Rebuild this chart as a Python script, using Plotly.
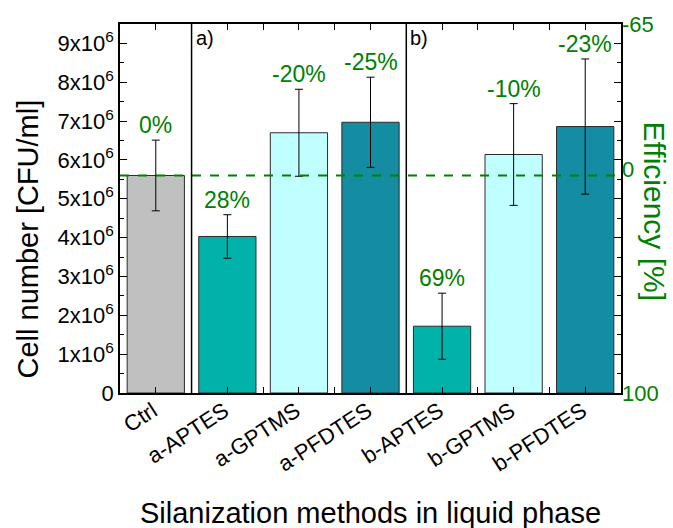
import plotly.graph_objects as go

# Cell counts after silanization (liquid phase)
categories = ["Ctrl", "a-APTES", "a-GPTMS", "a-PFDTES", "b-APTES", "b-GPTMS", "b-PFDTES"]
cell_number = [5.60e6, 4.03e6, 6.70e6, 6.97e6, 1.72e6, 6.14e6, 6.86e6]
cell_error = [0.91e6, 0.56e6, 1.12e6, 1.16e6, 0.85e6, 1.31e6, 1.74e6]
efficiency = [0, 28, -20, -25, 69, -10, -23]
bar_colors = ["#C0C0C0", "#00B2AA", "#C0FFFF", "#148CA2", "#00B2AA", "#C0FFFF", "#148CA2"]

y_tick_vals = [0, 1e6, 2e6, 3e6, 4e6, 5e6, 6e6, 7e6, 8e6, 9e6]
y_tick_text = ["0"] + [f"{i}x10<sup>6</sup>" for i in range(1, 10)]
eff_tick_vals = [-65, 0, 100]
eff_tick_text = ["-65", "0", "100"]
group_labels = ["a)", "b)"]
group_starts = [0.5, 3.5]

FONT = "Arial"
GREEN = "#008000"

x_pos = list(range(len(categories)))

fig = go.Figure()
fig.add_trace(go.Bar(
    x=x_pos, y=cell_number, width=0.8,
    marker=dict(color=bar_colors, line=dict(color="#2a2a2a", width=1)),
    error_y=dict(type="data", array=cell_error, color="black", thickness=1, width=4),
    showlegend=False,
))
# invisible trace that carries the efficiency axis
fig.add_trace(go.Scatter(
    x=x_pos, y=efficiency, yaxis="y2", mode="markers",
    marker=dict(opacity=0), hoverinfo="skip", showlegend=False,
))

# efficiency labels above each error bar
for xi, v, e, eff in zip(x_pos, cell_number, cell_error, efficiency):
    fig.add_annotation(x=xi, y=v + e, text=f"{eff}%", showarrow=False,
                       yanchor="bottom", yshift=0,
                       font=dict(family=FONT, size=23, color=GREEN))

# reference level of the control
fig.add_shape(type="line", xref="paper", x0=0, x1=1, yref="y",
              y0=cell_number[0], y1=cell_number[0],
              line=dict(color=GREEN, width=2, dash="dash"))

# group separators and labels
for xs, lab in zip(group_starts, group_labels):
    fig.add_shape(type="line", xref="x", x0=xs, x1=xs, yref="paper", y0=0, y1=1,
                  line=dict(color="black", width=1.5))
    fig.add_annotation(x=xs, y=1, xref="x", yref="paper", text=lab, showarrow=False,
                       xanchor="left", yanchor="top", xshift=2, yshift=-1,
                       font=dict(family=FONT, size=20, color="black"))

# axis titles
fig.add_annotation(x=1, y=0.5, xref="paper", yref="paper", text="Efficiency [%]",
                   showarrow=False, textangle=90, xanchor="center", yanchor="middle",
                   xshift=33, yshift=-3,
                   font=dict(family=FONT, size=30, color=GREEN))
fig.add_annotation(x=0, y=0.5, xref="paper", yref="paper", text="Cell number [CFU/ml]",
                   showarrow=False, textangle=-90, xanchor="center", yanchor="middle",
                   xshift=-93, yshift=-31,
                   font=dict(family=FONT, size=29, color="black"))
fig.add_annotation(x=0.5, y=0, xref="paper", yref="paper",
                   text="Silanization methods in liquid phase",
                   showarrow=False, xanchor="center", yanchor="middle",
                   xshift=0, yshift=-120,
                   font=dict(family=FONT, size=29, color="black"))

fig.update_layout(
    width=673, height=528,
    margin=dict(l=120, r=52, t=24, b=135),
    plot_bgcolor="white", paper_bgcolor="white",
    font=dict(family=FONT, color="black"),
    xaxis=dict(
        range=[-0.5, len(categories) - 0.5], automargin=False,
        tickvals=x_pos, ticktext=categories, tickangle=-33,
        tickfont=dict(size=22), ticks="inside", ticklen=6, tickwidth=1.2,
        tickcolor="black", ticklabelstandoff=-5, ticklabelshift=-3,
        minor=dict(tick0=0.5, dtick=1, ticks="inside", ticklen=4, tickcolor="black"),
        showline=True, linecolor="black", linewidth=1.5, mirror="allticks",
        showgrid=False, zeroline=False,
    ),
    yaxis=dict(
        range=[0, 9.5e6], automargin=False,
        tickvals=y_tick_vals, ticktext=y_tick_text,
        tickfont=dict(size=22), ticks="inside", ticklen=7, tickwidth=1.2,
        tickcolor="black",
        minor=dict(dtick=0.5e6, tick0=0, ticks="inside", ticklen=4, tickcolor="black"),
        showline=True, linecolor="black", linewidth=1.5, mirror="allticks",
        showgrid=False, zeroline=False,
    ),
    yaxis2=dict(
        overlaying="y", side="right", range=[100, -65], automargin=False,
        tickvals=eff_tick_vals, ticktext=eff_tick_text,
        tickfont=dict(size=22, color=GREEN),
        ticks="", showline=False, showgrid=False, zeroline=False,
    ),
)

fig.write_html("out.html")
